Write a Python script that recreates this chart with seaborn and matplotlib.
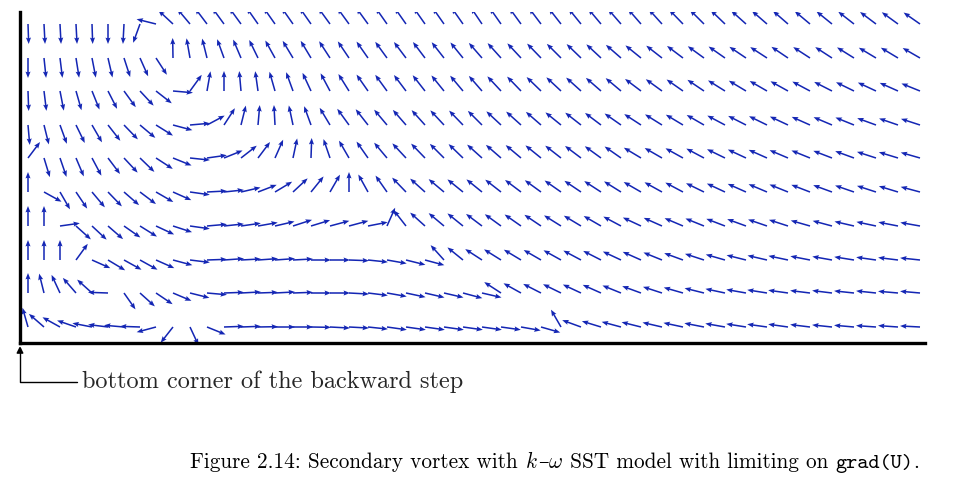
import numpy as np
import matplotlib
matplotlib.use("Agg")
import matplotlib.pyplot as plt
from matplotlib.offsetbox import TextArea, HPacker, AnchoredOffsetbox
import seaborn as sns

# ---- mesh coordinates (px-like units, origin = bottom corner of the step) ----
x_cols = [8, 24, 40, 56, 72, 88, 104, 120, 136, 153, 170, 187, 204, 221, 238, 255,
          273, 291, 310, 329, 348, 367, 386, 405, 424, 443, 462, 481, 501, 521, 541,
          561, 581, 601, 621, 642, 663, 684, 705, 726, 747, 768, 790, 812, 834, 856,
          878, 900]
y_rows = [16, 50, 83, 117, 151, 185, 218, 252, 285, 319, 352]

# ---- flow direction (degrees, counter-clockwise from +x), one list per mesh row ----
ang_row00 = [106, 139, 151, 161, 169, 173, 175, 178, -165, -128, -65, -22, 2, 2, 1, 0,
             0, -1, -3, -3, -6, -8, -8, -8, -8, -8, -8, -8, -10, -16, 120, 160,
             163, 165, 166, 167, 168, 169, 170, 171, 172, 172, 173, 174, 175, 176, 176, 177]
ang_row01 = [90, 104, 115, 131, 138, 178, -55, -42, -34, -23, -14, -5, 2, 3, 2, 3,
             2, 0, 0, -3, -7, -10, -12, -13, -13, -15, -13, 147, 151, 153, 154, 155,
             156, 158, 160, 162, 164, 166, 168, 170, 171, 172, 173, 173, 174, 174, 175, 175]
ang_row02 = [90, 90, 90, 54, -24, -31, -29, -29, -24, -15, -7, 2, 4, 3, 4, 4,
             3, 0, 0, -2, -6, -10, -14, -15, 132, 141, 147, 148, 149, 150, 151, 152,
             153, 155, 156, 158, 160, 162, 164, 166, 167, 168, 169, 170, 171, 172, 173, 174]
ang_row03 = [90, 90, 8, -42, -43, -41, -35, -32, -25, -18, -8, 5, 6, 8, 10, 13,
             18, 17, 15, 15, 11, 66, 128, 138, 140, 141, 143, 144, 145, 146, 148, 149,
             150, 152, 155, 156, 157, 158, 159, 160, 161, 162, 164, 165, 167, 168, 169, 170]
ang_row04 = [90, -29, -60, -56, -50, -46, -41, -37, -30, -24, -8, 3, 6, 13, 21, 31,
             43, 51, 60, 90, 119, 125, 134, 138, 140, 141, 141, 142, 143, 144, 145, 146,
             147, 148, 150, 151, 152, 154, 155, 156, 157, 158, 159, 160, 161, 162, 163, 165]
ang_row05 = [53, -73, -71, -67, -62, -53, -47, -44, -33, -22, -6, 8, 22, 38, 53, 66,
             78, 88, 109, 120, 125, 130, 133, 134, 135, 136, 138, 139, 140, 141, 142, 143,
             144, 145, 149, 150, 151, 152, 154, 155, 156, 157, 158, 159, 160, 162, 163, 164]
ang_row06 = [-85, -76, -70, -64, -60, -52, -46, -40, -32, -15, 5, 28, 57, 76, 85, 93,
             102, 110, 121, 126, 128, 130, 131, 132, 133, 134, 135, 137, 138, 139, 141, 142,
             143, 145, 147, 148, 149, 150, 152, 153, 154, 155, 156, 157, 158, 160, 161, 162]
ang_row07 = [-88, -83, -79, -74, -68, -63, -54, -47, -38, -5, 54, 80, 90, 95, 98, 106,
             110, 115, 118, 122, 125, 126, 127, 128, 129, 130, 131, 133, 134, 136, 137, 138,
             139, 140, 143, 144, 145, 146, 148, 149, 150, 151, 152, 153, 154, 155, 156, 158]
ang_row08 = [-90, -84, -83, -81, -79, -77, -72, -66, -57, 91, 100, 104, 110, 113, 116, 119,
             121, 121, 123, 124, 125, 126, 127, 127, 128, 129, 131, 132, 133, 134, 135, 136,
             137, 139, 141, 142, 143, 144, 145, 146, 147, 146, 147, 147, 148, 149, 149, 150]
ang_row09 = [-88, -87, -87, -87, -88, -90, -93, -110, 166, 137, 130, 127, 126, 126, 125, 125,
             125, 125, 126, 126, 126, 125, 125, 125, 125, 125, 124, 125, 126, 127, 128, 129,
             130, 131, 131, 132, 134, 135, 136, 138, 139, 139, 140, 141, 142, 143, 144, 145]
ang_row10 = [-90, -90, -90, -90, -90, -90, 125, 125, 125, 125, 125, 125, 125, 125, 125, 125,
             125, 125, 125, 125, 125, 125, 125, 125, 125, 125, 125, 125, 125, 125, 125, 125,
             125, 125, 125, 125, 125, 125, 125, 125, 125, 125, 125, 125, 125, 125, 125, 125]

angle_rows = [ang_row00, ang_row01, ang_row02, ang_row03, ang_row04, ang_row05,
              ang_row06, ang_row07, ang_row08, ang_row09, ang_row10]

corner_label = "bottom corner of the backward step"
caption_parts = ["Figure 2.14: Secondary vortex with ", "$k$", "\u2013", r"$\omega$",
                 " SST model with limiting on ", "grad(U)", "."]

# ---- style ----
sns.set_theme(style="white")
plt.rcParams["font.family"] = ["cmr10", "DejaVu Serif"]
plt.rcParams["mathtext.fontset"] = "cm"
plt.rcParams["axes.unicode_minus"] = False

ARROW_LEN = 20.0
ARROW_COLOR = "#1426b4"

X, Y = np.meshgrid(np.array(x_cols, float), np.array(y_rows, float))
TH = np.deg2rad(np.array(angle_rows, float))
U = ARROW_LEN * np.cos(TH)
V = ARROW_LEN * np.sin(TH)

fig = plt.figure(figsize=(9.6, 4.8), dpi=100)
ax = fig.add_axes([20 / 960, 137 / 480, 905 / 960, 331 / 480])
ax.quiver(X, Y, U, V, angles="xy", scale_units="xy", scale=1, pivot="tail",
          color=ARROW_COLOR, width=0.0017, headwidth=3.3, headlength=4.2,
          headaxislength=3.7, zorder=2)
ax.set_xlim(0, 905)
ax.set_ylim(0, 331)
ax.set_xticks([])
ax.set_yticks([])
sns.despine(ax=ax, top=True, right=True)
for side in ("left", "bottom"):
    ax.spines[side].set_linewidth(2.4)
    ax.spines[side].set_color("black")
    ax.spines[side].set_zorder(5)
ax.set_facecolor("white")

# corner annotation (L-shaped leader from the label to the step corner)
ax.annotate(corner_label, xy=(0, -3), xycoords="data",
            xytext=(82, 480 - 382), textcoords="figure pixels",
            ha="left", va="center", fontsize=17.5, family="cmr10",
            annotation_clip=False,
            arrowprops=dict(arrowstyle="-|>", color="black", lw=1.0,
                            mutation_scale=10, shrinkA=1, shrinkB=0,
                            connectionstyle="angle,angleA=0,angleB=90,rad=0"))

# caption assembled from roman / math / typewriter pieces
CAP = 15.3
fams = ["cmr10", None, ["DejaVu Serif"], None, "cmr10", "cmtt10", "cmr10"]
areas = []
for txt, fam in zip(caption_parts, fams):
    props = dict(size=CAP, color="black")
    if fam is not None:
        props["family"] = fam
    areas.append(TextArea(txt, textprops=props))
pack = HPacker(children=areas, align="baseline", pad=0, sep=0)
box = AnchoredOffsetbox(loc="center", child=pack, pad=0, frameon=False,
                        bbox_to_anchor=(555 / 960, (480 - 462) / 480),
                        bbox_transform=fig.transFigure, borderpad=0)
fig.add_artist(box)

fig.savefig("out.png", dpi=100, facecolor="white")
